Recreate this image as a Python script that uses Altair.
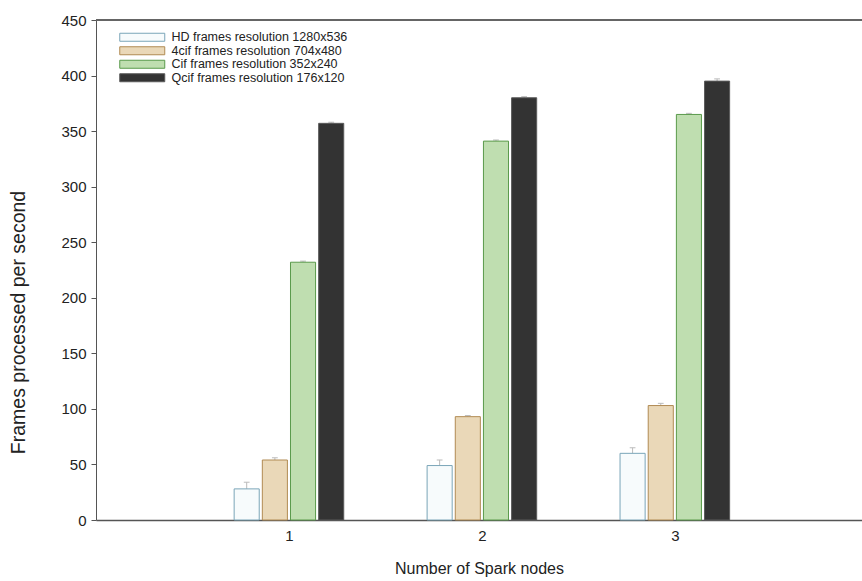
import altair as alt
import pandas as pd

# ---- data ----
nodes = [1, 2, 3]
series = [
    "HD frames  resolution 1280x536",
    "4cif frames resolution 704x480",
    "Cif frames resolution 352x240",
    "Qcif frames resolution 176x120",
]
hd_fps = [28, 49, 60]
cif4_fps = [54, 93, 103]
cif_fps = [232, 341, 365]
qcif_fps = [357, 380, 395]
hd_err = [6, 5, 5]
cif4_err = [2, 1, 2]
cif_err = [1, 1, 1]
qcif_err = [1, 1, 2]
y_ticks = [0, 50, 100, 150, 200, 250, 300, 350, 400, 450]

# ---- styles ----
fills = ["#f7fbfc", "#ead8b8", "#bfdeb0", "#333333"]
strokes = ["#7aa5b8", "#b08a52", "#5a9a4b", "#5a5a5a"]
FONT = "Liberation Sans"
PITCH = 0.146
BAR_W = 0.13
W, H = 766, 500

rows = []
for idx, (name, vals, errs) in enumerate(
    zip(series, [hd_fps, cif4_fps, cif_fps, qcif_fps], [hd_err, cif4_err, cif_err, qcif_err])
):
    for n, v, e in zip(nodes, vals, errs):
        rows.append({"node": n, "series": name, "idx": idx, "fps": v, "err": e})
df = pd.DataFrame(rows)

base = alt.Chart(df).transform_calculate(
    xc=f"datum.node + (datum.idx - 1.5) * {PITCH}",
    x0=f"datum.node + (datum.idx - 1.5) * {PITCH} - {BAR_W / 2}",
    x1=f"datum.node + (datum.idx - 1.5) * {PITCH} + {BAR_W / 2}",
    c0=f"datum.node + (datum.idx - 1.5) * {PITCH} - 0.015",
    c1=f"datum.node + (datum.idx - 1.5) * {PITCH} + 0.015",
    hi="datum.fps + datum.err",
    zero="0",
)

x_scale = alt.Scale(domain=[0, 3.97], nice=False, zero=False)
y_scale = alt.Scale(domain=[0, 450], nice=False)

# wide flat legend swatch (45 x 8 px at symbolSize 100)
legend_shape = "M-4.5,-0.8L4.5,-0.8L4.5,0.8L-4.5,0.8Z"
legend = alt.Legend(
    title=None,
    orient="none",
    legendX=40,
    legendY=11,
    symbolType=legend_shape,
    symbolSize=100,
    symbolStrokeWidth=1,
    labelFont=FONT,
    labelFontSize=12.5,
    labelColor="#222222",
    labelOffset=23,
    rowPadding=0.5,
    padding=0,
    labelLimit=400,
)

bars = base.mark_bar(strokeWidth=1, opacity=1).encode(
    x=alt.X(
        "x0:Q",
        scale=x_scale,
        axis=alt.Axis(
            values=nodes,
            ticks=False,
            grid=False,
            title="Number of Spark nodes",
            titleFont=FONT,
            titleFontSize=16,
            titleFontWeight="normal",
            titleColor="#222222",
            titleY=48,
            titleBaseline="middle",
            labelFont=FONT,
            labelFontSize=15,
            labelColor="#222222",
            labelPadding=8,
            domainColor="#555555",
            domainWidth=1.5,
            format="d",
        ),
    ),
    x2="x1:Q",
    y=alt.Y(
        "fps:Q",
        scale=y_scale,
        axis=alt.Axis(
            values=y_ticks,
            grid=False,
            title="Frames processed per second",
            titleFont=FONT,
            titleFontSize=19.5,
            titleFontWeight="normal",
            titleColor="#222222",
            titleX=-78,
            titleY=302,
            titleAngle=-90,
            titleAlign="center",
            titleBaseline="middle",
            labelFont=FONT,
            labelFontSize=15,
            labelColor="#222222",
            labelPadding=5,
            tickSize=5,
            tickColor="#555555",
            domainColor="#555555",
            domainWidth=1,
        ),
    ),
    y2="zero:Q",
    fill=alt.Fill("series:N", scale=alt.Scale(domain=series, range=fills), legend=legend),
    stroke=alt.Stroke("series:N", scale=alt.Scale(domain=series, range=strokes), legend=legend),
)

err = base.mark_rule(color="#bbbbbb", strokeWidth=1).encode(
    x=alt.X("xc:Q", scale=x_scale), y=alt.Y("fps:Q", scale=y_scale), y2="hi:Q"
)
caps = base.mark_rule(color="#bbbbbb", strokeWidth=1).encode(
    x=alt.X("c0:Q", scale=x_scale), x2="c1:Q", y=alt.Y("hi:Q", scale=y_scale)
)

top_line = alt.Chart(df).mark_rule(color="#666666", strokeWidth=1.5).encode(
    x=alt.value(0), x2=alt.value(W), y=alt.value(0)
)

chart = (
    alt.layer(err, caps, bars, top_line)
    .properties(
        width=W,
        height=H,
        autosize=alt.AutoSizeParams(type="none"),
        padding={"left": 96, "top": 20, "right": 0, "bottom": 61},
        background="white",
    )
    .configure_view(stroke=None)
)

chart.save("out.html", embed_options={"renderer": "svg", "actions": False})
